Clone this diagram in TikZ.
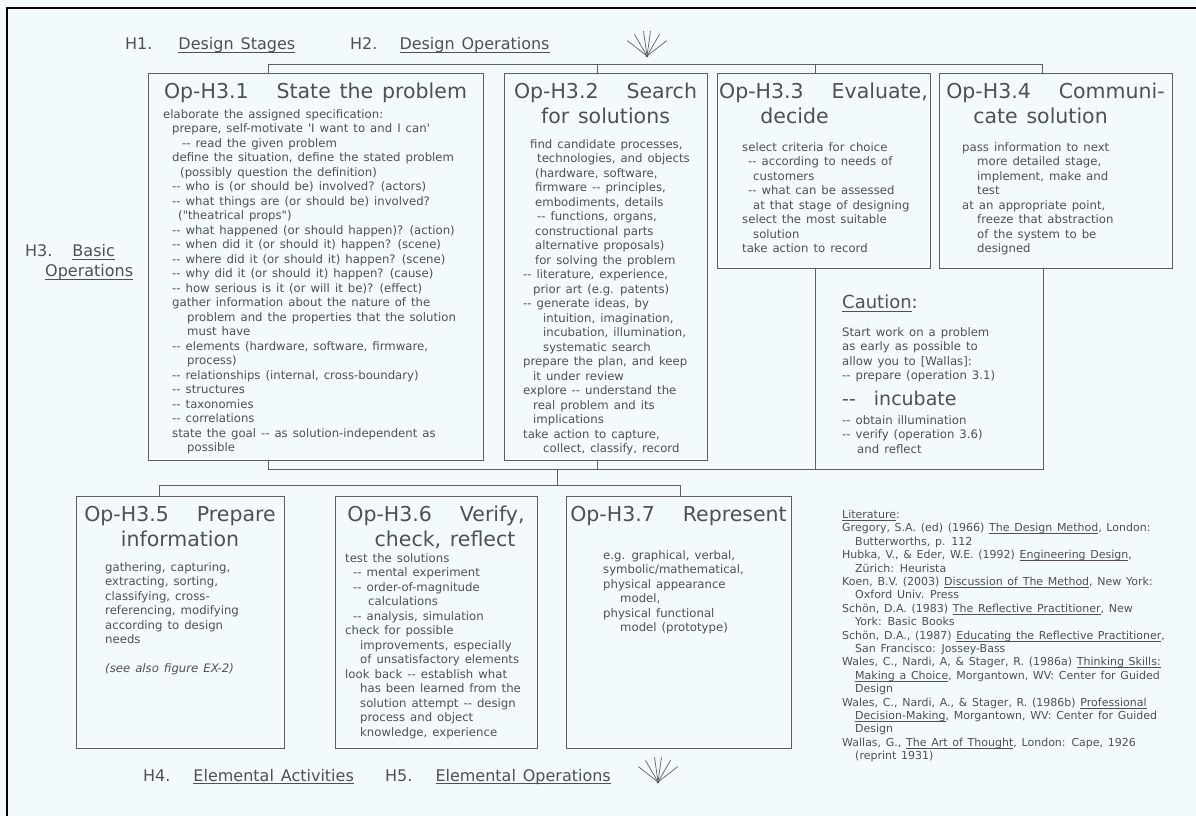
\documentclass[tikz,border=0pt]{standalone}
\usepackage{fontspec}
\setmainfont{DejaVu Sans}[Ligatures=TeXOff, WordSpace=1.35]
\usetikzlibrary{calc,positioning}
\definecolor{bgc}{RGB}{243,250,252}
\definecolor{linec}{RGB}{95,95,95}
\definecolor{txtc}{RGB}{80,80,80}
\newcommand{\bodyfont}{\fontsize{11.7}{14.5}\selectfont}
\newcommand{\titlefont}{\fontsize{20.5}{25}\selectfont}
\newcommand{\hdfont}{\fontsize{16}{20}\selectfont}
\newcommand{\litfont}{\fontsize{11}{13.4}\selectfont}
\newcommand{\undl}[1]{\leavevmode\setbox0=\hbox{#1}\rlap{\rule[-0.18em]{\wd0}{0.5pt}}\box0}
\tikzset{opbox/.style={draw=linec, line width=0.85pt, inner sep=0pt, outer sep=0pt, anchor=north west},
  optitle/.style={font=\titlefont, text=txtc, align=center, inner sep=0pt},
  opbody/.style={font=\bodyfont, text=txtc, align=left, inner sep=0pt},
  hd/.style={font=\hdfont, text=txtc, inner sep=0pt, anchor=base west},
  wire/.style={draw=linec, line width=0.85pt}}

\begin{document}
\begin{tikzpicture}[x=1pt, y=-1pt]
  \fill[bgc] (0,0) rectangle (1196,816);
  \useasboundingbox (0,0) rectangle (1196,816);
  \draw[black, line width=2pt] (7,816) -- (7,8) -- (1196,8);
  % upper row of operations
  \node[opbox, minimum width=335pt, minimum height=387pt] (b31) at (148,73) {};
  \node[opbox, minimum width=203pt, minimum height=387pt, right=21pt of b31.north east, anchor=north west] (b32) {};
  \node[opbox, minimum width=213pt, minimum height=195pt, right=10pt of b32.north east, anchor=north west] (b33) {};
  \node[opbox, minimum width=233pt, minimum height=195pt, right=9pt of b33.north east, anchor=north west] (b34) {};
  \node[opbox, draw=none, minimum width=228pt, minimum height=201pt, right=98pt of b33.south west, anchor=north west] (caut) {};
  \draw[wire] (caut.north west) |- (caut.south east) -- (caut.north east);
  % lower row
  \node[opbox, minimum width=208pt, minimum height=252pt] (b35) at (76,496) {};
  \node[opbox, minimum width=202pt, minimum height=252pt, right=51pt of b35.north east, anchor=north west] (b36) {};
  \node[opbox, minimum width=225pt, minimum height=252pt, right=29pt of b36.north east, anchor=north west] (b37) {};
  % titles
  \node[optitle, below=10pt of b31.north] (t31) {Op-H3.1\hspace{28pt}State the problem};
  \node[optitle, below=10pt of b32.north] (t32) {Op-H3.2\hspace{28pt}Search\\for solutions};
  \node[optitle, below=10pt of b33.north] (t33) {Op-H3.3\hspace{28pt}Evaluate,\\decide\hspace*{58pt}};
  \node[optitle, below=10pt of b34.north] (t34) {Op-H3.4\hspace{28pt}Communi-\\cate solution\hspace*{30pt}};
  \node[optitle, below=10pt of b35.north] (t35) {Op-H3.5\hspace{28pt}Prepare\\information};
  \node[optitle, below=10pt of b36.north] (t36) {Op-H3.6\hspace{28pt}Verify,\\\hspace*{18pt}check, reflect};
  \node[optitle, below=10pt of b37.north] (t37) {Op-H3.7\hspace{28pt}Represent};
  % box texts
  \node[opbody, below right=36pt and 15pt of b31.north west] (x31) {elaborate the assigned specification:\\
    \hspace*{9pt}prepare, self-motivate 'I want to and I can'\\
    \hspace*{19pt}-- read the given problem\\
    \hspace*{9pt}define the situation, define the stated problem\\
    \hspace*{17pt}(possibly question the definition)\\
    \hspace*{9pt}-- who is (or should be) involved? (actors)\\
    \hspace*{9pt}-- what things are (or should be) involved?\\
    \hspace*{15pt}("theatrical props")\\
    \hspace*{9pt}-- what happened (or should happen)? (action)\\
    \hspace*{9pt}-- when did it (or should it) happen? (scene)\\
    \hspace*{9pt}-- where did it (or should it) happen? (scene)\\
    \hspace*{9pt}-- why did it (or should it) happen? (cause)\\
    \hspace*{9pt}-- how serious is it (or will it be)? (effect)\\
    \hspace*{9pt}gather information about the nature of the\\
    \hspace*{24pt}problem and the properties that the solution\\
    \hspace*{24pt}must have\\
    \hspace*{9pt}-- elements (hardware, software, firmware,\\
    \hspace*{24pt}process)\\
    \hspace*{9pt}-- relationships (internal, cross-boundary)\\
    \hspace*{9pt}-- structures\\
    \hspace*{9pt}-- taxonomies\\
    \hspace*{9pt}-- correlations\\
    \hspace*{9pt}state the goal -- as solution-independent as\\
    \hspace*{24pt}possible};
  \node[opbody, below right=66pt and 19pt of b32.north west] (x32) {\hspace*{7pt}find candidate processes,\\
    \hspace*{14pt}technologies, and objects\\
    \hspace*{12pt}(hardware, software,\\
    \hspace*{12pt}firmware -- principles,\\
    \hspace*{12pt}embodiments, details\\
    \hspace*{14pt}-- functions, organs,\\
    \hspace*{12pt}constructional parts\\
    \hspace*{12pt}alternative proposals)\\
    \hspace*{12pt}for solving the problem\\
    -- literature, experience,\\
    \hspace*{10pt}prior art (e.g. patents)\\
    -- generate ideas, by\\
    \hspace*{20pt}intuition, imagination,\\
    \hspace*{20pt}incubation, illumination,\\
    \hspace*{20pt}systematic search\\
    prepare the plan, and keep\\
    \hspace*{10pt}it under review\\
    explore -- understand the\\
    \hspace*{10pt}real problem and its\\
    \hspace*{10pt}implications\\
    take action to capture,\\
    \hspace*{20pt}collect, classify, record};
  \node[opbody, below right=69pt and 25pt of b33.north west] (x33) {select criteria for choice\\
    \hspace*{6pt}-- according to needs of\\
    \hspace*{11pt}customers\\
    \hspace*{6pt}-- what can be assessed\\
    \hspace*{11pt}at that stage of designing\\
    select the most suitable\\
    \hspace*{11pt}solution\\
    take action to record};
  \node[opbody, below right=69pt and 23pt of b34.north west] (x34) {pass information to next\\
    \hspace*{15pt}more detailed stage,\\
    \hspace*{15pt}implement, make and\\
    \hspace*{15pt}test\\
    at an appropriate point,\\
    \hspace*{15pt}freeze that abstraction\\
    \hspace*{15pt}of the system to be\\
    \hspace*{15pt}designed};
  \node[opbody, below right=66pt and 29pt of b35.north west] (x35) {gathering, capturing,\\
    extracting, sorting,\\
    classifying, cross-\\
    referencing, modifying\\
    according to design\\
    needs\\[14.5pt]
    \textit{(see also figure EX-2)}};
  \node[opbody, below right=57pt and 10pt of b36.north west] (x36) {test the solutions\\
    \hspace*{8pt}-- mental experiment\\
    \hspace*{8pt}-- order-of-magnitude\\
    \hspace*{23pt}calculations\\
    \hspace*{8pt}-- analysis, simulation\\
    check for possible\\
    \hspace*{15pt}improvements, especially\\
    \hspace*{15pt}of unsatisfactory elements\\
    look back -- establish what\\
    \hspace*{15pt}has been learned from the\\
    \hspace*{15pt}solution attempt -- design\\
    \hspace*{15pt}process and object\\
    \hspace*{15pt}knowledge, experience};
  \node[opbody, below right=54pt and 37pt of b37.north west] (x37) {e.g. graphical, verbal,\\
    symbolic/mathematical,\\
    physical appearance\\
    \hspace*{17pt}model,\\
    physical functional\\
    \hspace*{17pt}model (prototype)};
  % caution note
  \node[hd, font=\fontsize{18}{22}\selectfont] (cauh) at ($(caut.north west)+(27,40)$) {\undl{Caution}:};
  \node[opbody, below right=59pt and 27pt of caut.north west] (cau1) {Start work on a problem\\
    as early as possible to\\
    allow you to [Wallas]:\\
    -- prepare (operation 3.1)};
  \node[hd, font=\fontsize{19}{22}\selectfont] (cau2) at ($(caut.north west)+(27,137)$) {--\hspace{18pt}incubate};
  \node[opbody, below right=147pt and 27pt of caut.north west] (cau3) {-- obtain illumination\\
    -- verify (operation 3.6)\\
    \hspace*{15pt}and reflect};
  % literature
  \node[opbody, font=\litfont, below right=14pt and 51pt of b37.north east] (lit) {\undl{Literature}:\\
    Gregory, S.A. (ed) (1966) \undl{The Design Method}, London:\\
    \hspace*{13pt}Butterworths, p. 112\\
    Hubka, V., \& Eder, W.E. (1992) \undl{Engineering Design},\\
    \hspace*{13pt}Zürich: Heurista\\
    Koen, B.V. (2003) \undl{Discussion of The Method}, New York:\\
    \hspace*{13pt}Oxford Univ. Press\\
    Schön, D.A. (1983) \undl{The Reflective Practitioner}, New\\
    \hspace*{13pt}York: Basic Books\\
    Schön, D.A., (1987) \undl{Educating the Reflective Practitioner},\\
    \hspace*{13pt}San Francisco: Jossey-Bass\\
    Wales, C., Nardi, A, \& Stager, R. (1986a) \undl{Thinking Skills:}\\
    \hspace*{13pt}\undl{Making a Choice}, Morgantown, WV: Center for Guided\\
    \hspace*{13pt}Design\\
    Wales, C., Nardi, A., \& Stager, R. (1986b) \undl{Professional}\\
    \hspace*{13pt}\undl{Decision-Making}, Morgantown, WV: Center for Guided\\
    \hspace*{13pt}Design\\
    Wallas, G., \undl{The Art of Thought}, London: Cape, 1926\\
    \hspace*{13pt}(reprint 1931)};
  % headings
  \node[hd] (h1) at (125,50) {H1.\hspace{26pt}\undl{Design Stages}};
  \node[hd] (h2) at (350,50) {H2.\hspace{22pt}\undl{Design Operations}};
  \node[hd, align=left, anchor=north west] (h3) at (25,244) {H3.\hspace{20pt}\undl{Basic}\\\hspace*{20pt}\undl{Operations}};
  \node[hd] (h4) at (143,781) {H4.\hspace{23pt}\undl{Elemental Activities}};
  \node[hd] (h5) at (385,781) {H5.\hspace{23pt}\undl{Elemental Operations}};
  % top bus and drops
  \draw[wire] ($(b31.north west)+(120,0)$) -- ++(0,-9) -| ($(b34.north west)+(103,0)$);
  \draw[wire] ($(b32.north west)+(93,0)$) -- ++(0,-9);
  \draw[wire] ($(b33.north west)+(98,0)$) -- ++(0,-9);
  % middle bus to the lower row
  \coordinate (d32) at ($(b32.south west)+(93,0)$);
  \draw[wire] ($(b31.south west)+(120,0)$) |- (caut.south west);
  \draw[wire] (d32) -- (d32 |- caut.south);
  \coordinate (d35) at ($(b35.north west)+(83,0)$);
  \coordinate (d37) at ($(b37.north west)+(114,0)$);
  \coordinate (r36) at ($(b36.north east)+(20,-11)$);
  \draw[wire] (d35) -- ++(0,-11) -| (d37);
  \draw[wire] (r36) -- (r36 |- caut.south);
  % fans
  \coordinate (fan1) at (647,56);
  \coordinate (fan2) at (658,782);
  \foreach \f in {fan1,fan2}{
    \foreach \a in {38,60,82,98,120,142}
      \draw[wire, line width=0.7pt] (\f) -- ++(-\a:25);
    \fill[linec] (\f) circle (1.6);
  }
\end{tikzpicture}
\end{document}
